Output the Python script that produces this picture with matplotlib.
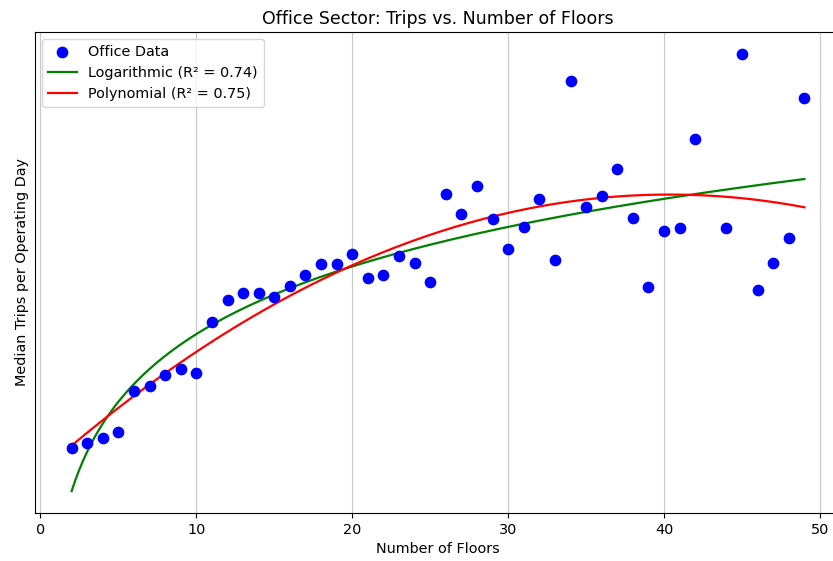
import numpy as np
import matplotlib
matplotlib.use("Agg")
import matplotlib.pyplot as plt

# Data (median trips per operating day, arbitrary units)
floors = [2, 3, 4, 5, 6, 7, 8, 9, 10, 11, 12, 13, 14, 15, 16, 17, 18, 19, 20,
          21, 22, 23, 24, 25, 26, 27, 28, 29, 30, 31, 32, 33, 34, 35, 36, 37,
          38, 39, 40, 41, 42, 44, 45, 46, 47, 48, 49]
trips = [113, 118, 123, 129, 170, 175, 186, 192, 188, 239, 261, 268, 268, 264,
         275, 286, 297, 297, 307, 283, 286, 305, 298, 279, 367, 347, 375, 342,
         312, 334, 362, 301, 480, 354, 365, 392, 343, 274, 330, 333, 422, 333,
         507, 271, 298, 323, 463]

log_label = "Logarithmic (R\u00b2 = 0.74)"
poly_label = "Polynomial (R\u00b2 = 0.75)"

x = np.array(floors, dtype=float)
y = np.array(trips, dtype=float)

# fits
b, a = np.polyfit(np.log(x), y, 1)
pc = np.polyfit(x, y, 2)
xs = np.linspace(x.min(), x.max(), 200)
y_log = a + b * np.log(xs)
y_poly = np.polyval(pc, xs)

fs = 10.4
fig = plt.figure(figsize=(8.33, 5.61), dpi=100)
ax = fig.add_axes([35 / 833, 48 / 561, (841 - 35) / 833, (513 - 32) / 561])

ax.scatter(x, y, color="blue", s=55, label="Office Data", zorder=3)
ax.plot(xs, y_log, color="green", linewidth=1.6, label=log_label)
ax.plot(xs, y_poly, color="red", linewidth=1.6, label=poly_label)

ax.set_title("Office Sector: Trips vs. Number of Floors", fontsize=12.5)
ax.set_xlabel("Number of Floors", fontsize=fs)
ax.set_ylabel("Median Trips per Operating Day", fontsize=fs)
ax.tick_params(axis="x", labelsize=fs)
ax.set_yticks([])
ax.grid(True, color="#b0b0b0", linewidth=0.8, alpha=0.7)
ax.legend(loc="upper left", fontsize=fs)

fig.savefig("out.png", dpi=100)
